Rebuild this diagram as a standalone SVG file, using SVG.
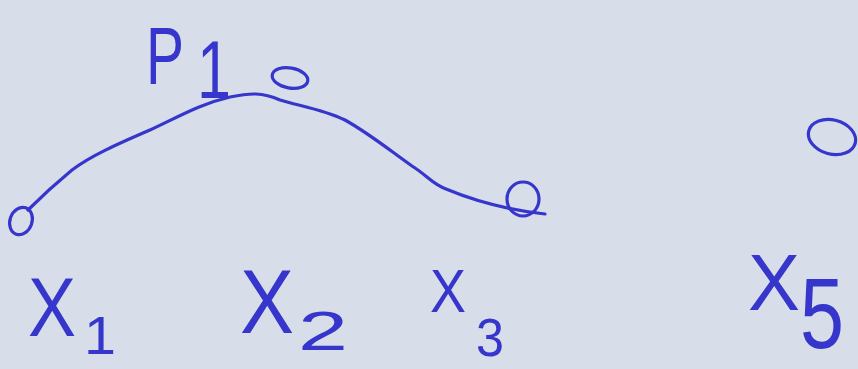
<svg xmlns="http://www.w3.org/2000/svg" width="858" height="369" viewBox="0 0 858 369">
<style>
.ink{fill:none;stroke:#3636cc;stroke-width:3.2;stroke-linecap:round;stroke-linejoin:round}
.lbl{font-family:"Liberation Sans",Arial,sans-serif;fill:#3636cc}
</style>
<rect width="858" height="369" fill="#d7dee9"/>
<g id="connectors">
<path class="ink" d="M28,210 C40,198 55,184 72,170 C92,155 120,143 150,130 C180,116 200,104 230,97 C250,93 262,92 280,100 C300,106 325,110 345,120 C370,134 392,152 412,166 C428,176 432,184 446,189 C470,199 500,209 545,214"/>
</g>
<g id="p1">
<text class="lbl" x="146" y="84" font-size="82" textLength="38" lengthAdjust="spacingAndGlyphs">P</text>
<text class="lbl" x="197" y="98" font-size="82" textLength="34" lengthAdjust="spacingAndGlyphs">1</text>
</g>
<g id="pt-x1"><ellipse class="ink" cx="21" cy="221" rx="11" ry="14" transform="rotate(20 21 221)"/></g>
<g id="pt-x2"><ellipse class="ink" cx="290" cy="78" rx="18" ry="10" transform="rotate(10 290 78)"/></g>
<g id="pt-x3"><ellipse class="ink" cx="523" cy="199" rx="16" ry="17"/></g>
<g id="pt-x5"><ellipse class="ink" cx="832" cy="137" rx="24" ry="17" transform="rotate(15 832 137)"/></g>
<g id="x1"><text class="lbl" x="28" y="336" font-size="84" textLength="48" lengthAdjust="spacingAndGlyphs">X</text><text class="lbl" x="84" y="354" font-size="54" textLength="32" lengthAdjust="spacingAndGlyphs">1</text></g>
<g id="x2"><text class="lbl" x="240" y="333" font-size="90" textLength="54" lengthAdjust="spacingAndGlyphs">X</text><text class="lbl" x="298" y="350" font-size="56" textLength="50" lengthAdjust="spacingAndGlyphs">2</text></g>
<g id="x3"><text class="lbl" x="430" y="312" font-size="62" textLength="36" lengthAdjust="spacingAndGlyphs">X</text><text class="lbl" x="476" y="356" font-size="54" textLength="28" lengthAdjust="spacingAndGlyphs">3</text></g>
<g id="x5"><text class="lbl" x="748" y="310" font-size="80" textLength="52" lengthAdjust="spacingAndGlyphs">X</text><text class="lbl" x="800" y="348" font-size="100" textLength="44" lengthAdjust="spacingAndGlyphs">5</text></g>
</svg>
